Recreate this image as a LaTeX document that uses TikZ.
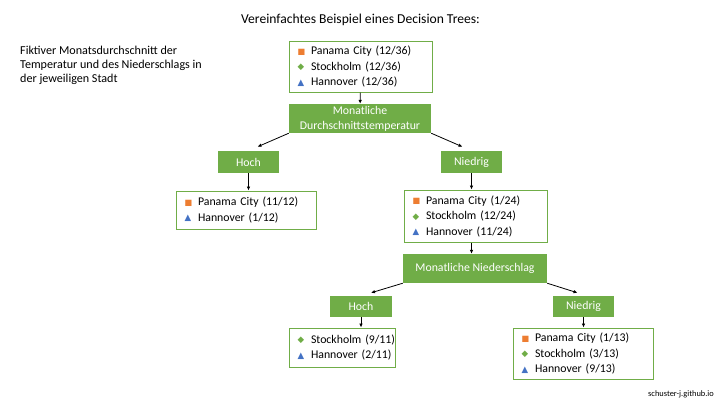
\documentclass[tikz,border=0pt]{standalone}
\usepackage{fontspec}
\setmainfont{Carlito}
\newfontfamily\symfont{DejaVu Sans}
\usetikzlibrary{arrows.meta,calc,positioning}
\definecolor{dtgreen}{HTML}{70AD47}
\definecolor{dtorange}{HTML}{ED7D31}
\definecolor{dtblue}{HTML}{4472C4}
\newcommand{\mpan}{\makebox[13.5pt][l]{\raisebox{0.4pt}{\textcolor{dtorange}{\symfont\fontsize{8.2}{7}\selectfont ■}}}}
\newcommand{\msto}{\makebox[13.5pt][l]{\raisebox{0.4pt}{\textcolor{dtgreen}{\symfont\fontsize{8.6}{7}\selectfont ◆}}}}
\newcommand{\mhan}{\makebox[13.5pt][l]{\raisebox{0.4pt}{\textcolor{dtblue}{\symfont\fontsize{8.6}{7}\selectfont ▲}}}}
\newcommand{\epan}[1]{\mbox{\mpan Panama City (#1)}}
\newcommand{\esto}[1]{\mbox{\msto Stockholm (#1)}}
\newcommand{\ehan}[1]{\mbox{\mhan Hannover (#1)}}

\begin{document}
\begin{tikzpicture}[
    x=1pt,y=1pt,
    font=\fontsize{11.8}{15.5}\selectfont,
    split/.style={fill=dtgreen,text=white,inner sep=0pt,align=center,
                  font=\fontsize{11.8}{15}\selectfont},
    leaf/.style={draw=dtgreen,line width=1pt,inner xsep=8.5pt,inner ysep=0pt,
                 align=left},
    arr/.style={-{Latex[length=4pt,width=3.6pt]},line width=0.8pt,black}
  ]
    \useasboundingbox (0,0) rectangle (720,-405);
    \node (title) at (360.5,-20) {\fontsize{13.6}{16}\selectfont Vereinfachtes Beispiel eines Decision Trees:};
    \node[anchor=north west,align=left,inner sep=0pt,font=\fontsize{12.1}{14}\selectfont]
      (note) at (20,-46) {Fiktiver Monatsdurchschnitt der\\Temperatur und des Niederschlags in\\der jeweiligen Stadt};
    % level 0
    \node[leaf,text width=126,minimum height=51] (root) at (360.5,-66.5)
      {\epan{12/36}\\\esto{12/36}\\\ehan{12/36}};
    \node[split,minimum width=142,minimum height=29] (temp) at (360,-118.5)
      {Monatliche\\Durchschnittstemperatur};
    % level 1
    \node[split,minimum width=61,minimum height=22] (hoch1) at (248.5,-162) {Hoch};
    \node[split,minimum width=61,minimum height=22] (nied1) at (471.5,-162) {Niedrig};
    \node[leaf,text width=123,minimum height=38] (leafa) at (246,-210)
      {\epan{11/12}\\\ehan{1/12}};
    \node[leaf,text width=126,minimum height=52] (leafb) at (475.5,-216)
      {\epan{1/24}\\\esto{12/24}\\\ehan{11/24}};
    % level 2
    \node[split,minimum width=144,minimum height=29] (rain) at (475,-268.5)
      {Monatliche Niederschlag};
    \node[split,minimum width=62,minimum height=21] (hoch2) at (361,-306.5) {Hoch};
    \node[split,minimum width=61,minimum height=21] (nied2) at (583.5,-306.5) {Niedrig};
    \node[leaf,text width=89,minimum height=39] (leafc) at (342,-347.5)
      {\esto{9/11}\\\ehan{2/11}};
    \node[leaf,text width=123,minimum height=51] (leafd) at (583,-353.5)
      {\epan{1/13}\\\esto{3/13}\\\ehan{9/13}};
    \node[font=\fontsize{8.4}{10}\selectfont] (site) at (681,-394) {schuster-j.github.io};
    % connectors
    \draw[arr] (root) -- (temp);
    \draw[arr] (temp.south west) -- ([xshift=9,yshift=4]hoch1.north);
    \draw[arr] (temp.south east) -- ([xshift=-9,yshift=4]nied1.north);
    \draw[arr] (hoch1.south) -- (hoch1.south |- leafa.north);
    \draw[arr] (nied1.south) -- (nied1.south |- leafb.north);
    \draw[arr] (nied1.south |- leafb.south) -- (nied1.south |- rain.north);
    \draw[arr] (rain.south west) -- ([xshift=10,yshift=3]hoch2.north);
    \draw[arr] (rain.south east) -- ([xshift=-6,yshift=3]nied2.north);
    \draw[arr] (hoch2.south) -- (hoch2.south |- leafc.north);
    \draw[arr] (nied2.south) -- (nied2.south |- leafd.north);
  \end{tikzpicture}
\end{document}
